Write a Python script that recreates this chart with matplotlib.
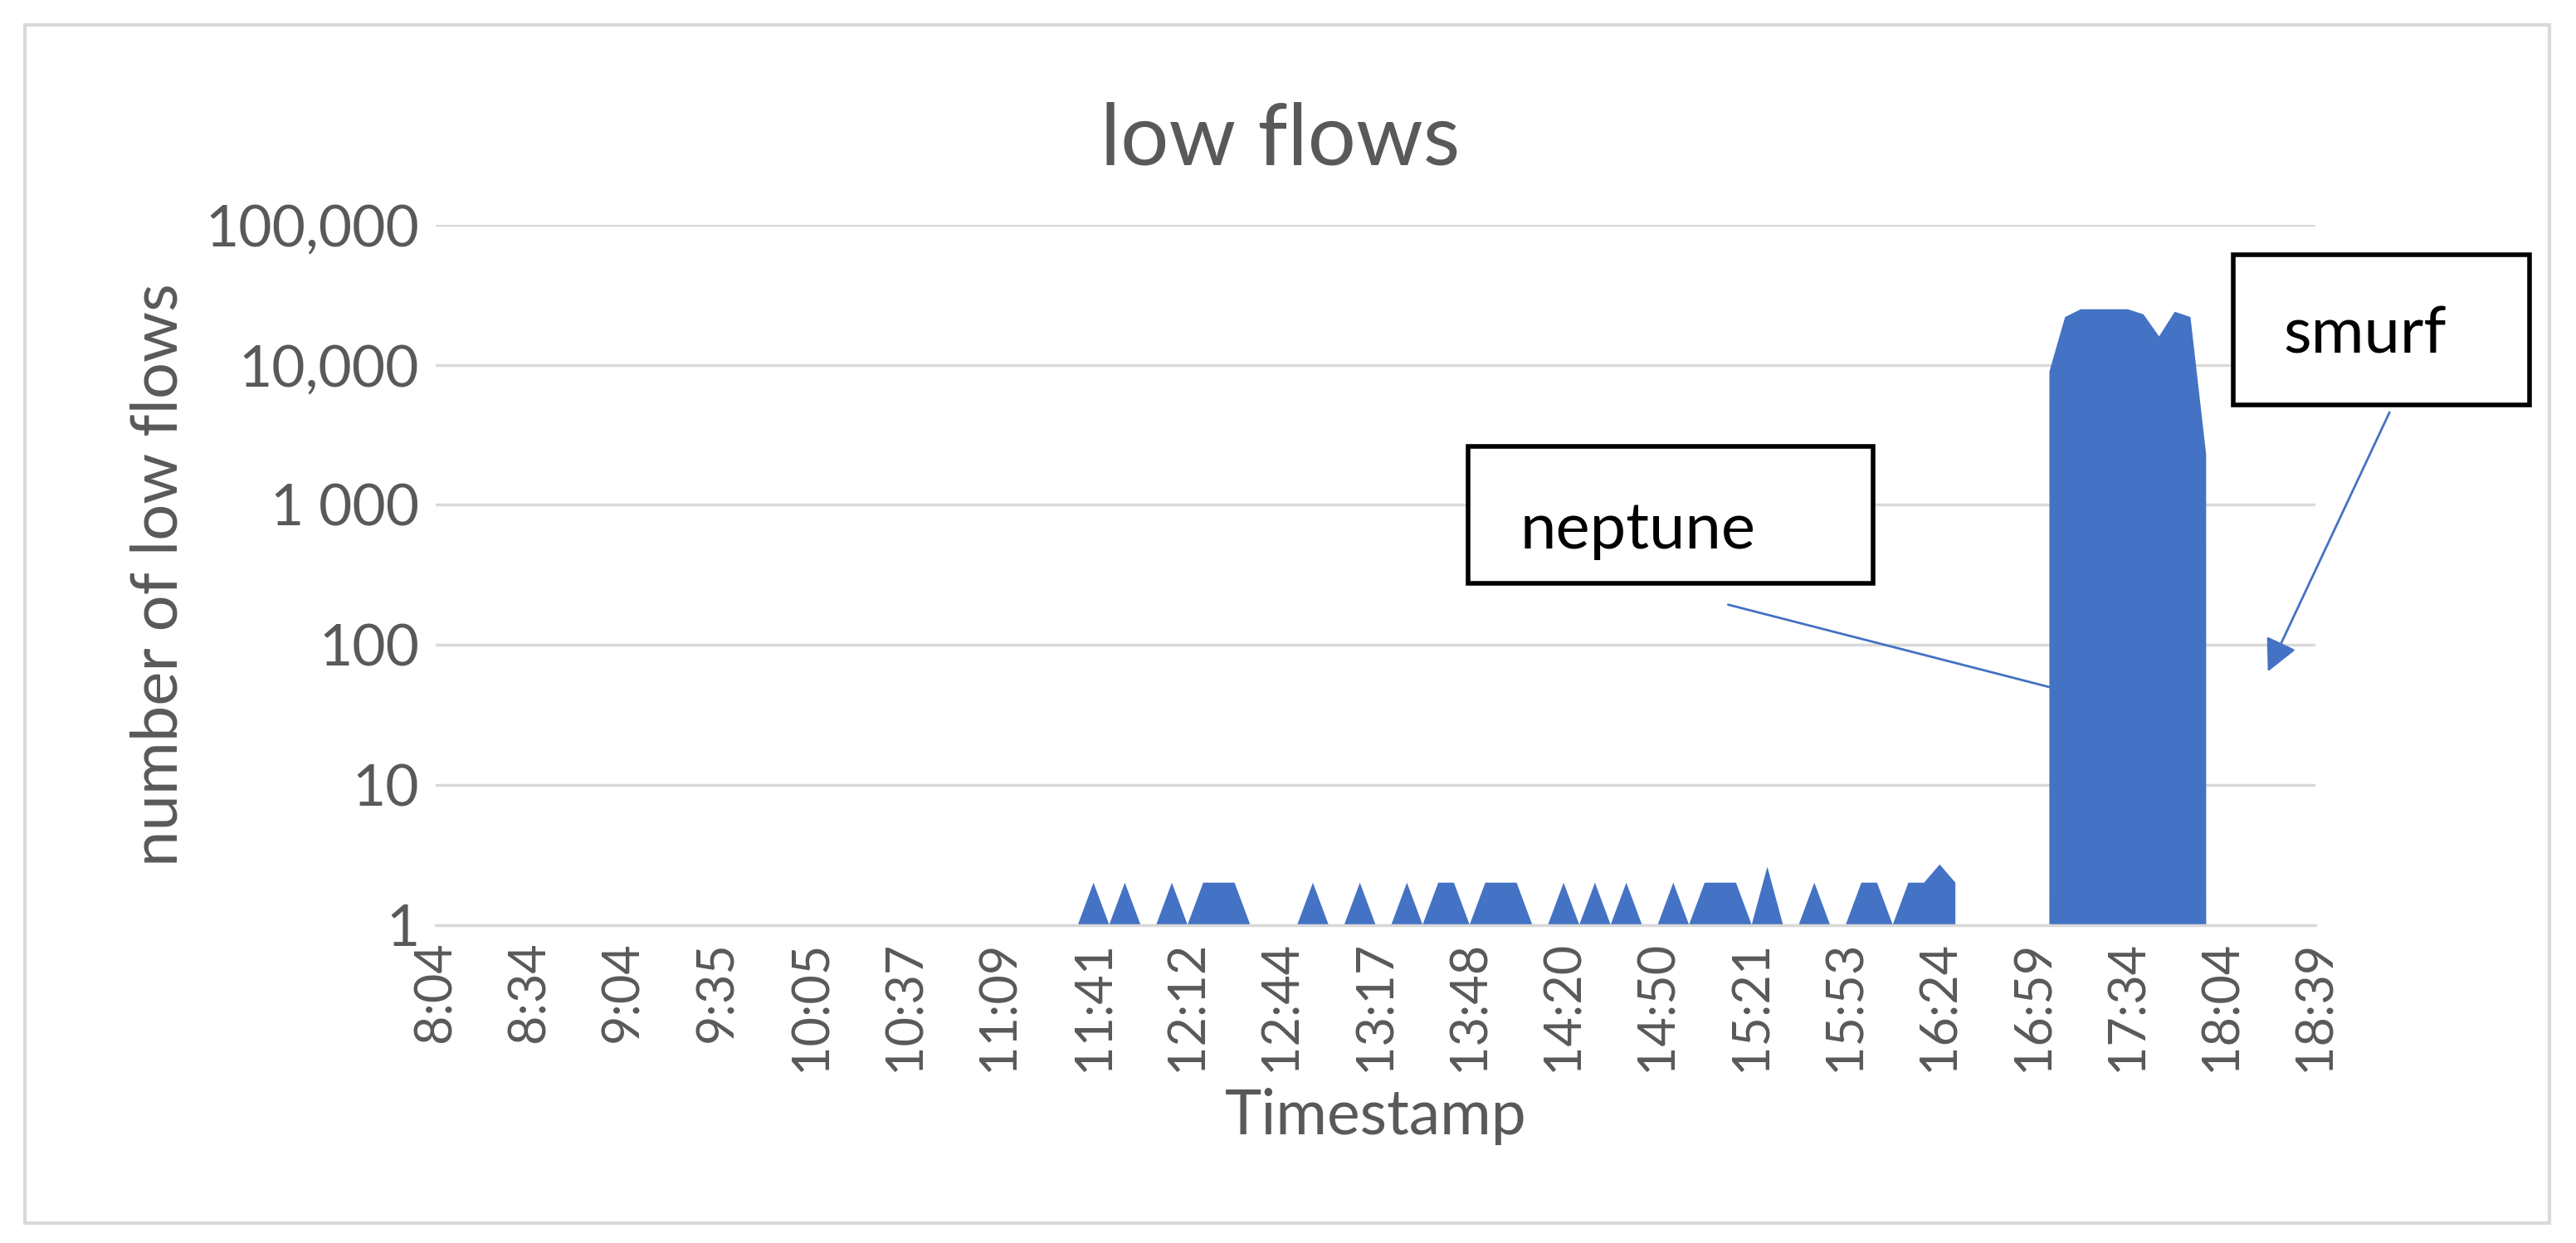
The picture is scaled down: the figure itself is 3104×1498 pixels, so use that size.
import matplotlib.pyplot as plt
from matplotlib.patches import Rectangle
from matplotlib.ticker import FixedLocator
import numpy as np

plt.rcParams['font.family'] = ['Lato', 'DejaVu Sans']

tick_labels = ["8:04", "8:34", "9:04", "9:35", "10:05", "10:37", "11:09", "11:41",
               "12:12", "12:44", "13:17", "13:48", "14:20", "14:50", "15:21",
               "15:53", "16:24", "16:59", "17:34", "18:04", "18:39"]
n_points = 118

# small spikes (index -> count); other points are 1 or 0 (0 drops straight to the axis)
small_idx = [42, 44, 47, 49, 50, 51, 56, 59, 62, 64, 65, 67, 68, 69, 72, 74, 76, 79,
             81, 82, 83, 85, 88, 91, 92, 94, 95, 96, 97]
small_val = [2, 2, 2, 2, 2, 2, 2, 2, 2, 2, 2, 2, 2, 2, 2, 2, 2, 2,
             2, 2, 2, 2.6, 2, 2, 2, 2, 2, 2.7, 2]
zero_idx = [98, 99, 100, 101, 102, 114, 115, 116, 117]
# attack block
big_idx = list(range(103, 114))
big_val = [9000, 22000, 25000, 25000, 25000, 25000, 23000, 16000, 24000, 22000, 2300]

counts = np.ones(n_points)
counts[small_idx] = small_val
counts[zero_idx] = 0
counts[big_idx] = big_val
x = np.arange(n_points)

fig = plt.figure(figsize=(31.04, 14.98), dpi=100)
ax = fig.add_axes([0.169, 0.256, 0.730, 0.563])
ax.set_yscale("log")
ax.fill_between(x, 1, counts, color="#4472c4", lw=0)
ax.set_ylim(1, 100000)
ax.set_xlim(0, n_points - 1)
ax.yaxis.set_major_locator(FixedLocator([1, 10, 100, 1000, 10000, 100000]))
ax.yaxis.set_minor_locator(FixedLocator([]))
ax.set_yticklabels(["1", "10", "100", "1 000", "10,000", "100,000"])
ax.set_xticks(np.arange(0, 121, 6))
ax.set_xticklabels(tick_labels, rotation=90)
ax.tick_params(length=0, labelcolor="#595959", pad=14)
ax.tick_params(axis="y", labelsize=50)
ax.tick_params(axis="x", labelsize=44)
ax.grid(axis="y", color="#d9d9d9", lw=2.5)
ax.set_axisbelow(True)
for s in ["top", "right", "left"]:
    ax.spines[s].set_visible(False)
ax.spines["bottom"].set_color("#d9d9d9")
ax.spines["bottom"].set_linewidth(2.5)
ax.set_xlabel("Timestamp", fontsize=54, color="#595959", labelpad=14)
ax.set_ylabel("number of low flows", fontsize=56, color="#595959", labelpad=14)
fig.text(0.497, 0.887, "low flows", fontsize=74, color="#595959", ha="center", va="center")

# annotation boxes
fig.patches.append(Rectangle((0.570, 0.531), 0.157, 0.110, transform=fig.transFigure,
                             fill=True, fc="white", ec="black", lw=4, zorder=5))
fig.text(0.590, 0.573, "neptune", fontsize=56, ha="left", va="center", zorder=6)
fig.patches.append(Rectangle((0.867, 0.674), 0.115, 0.121, transform=fig.transFigure,
                             fill=True, fc="white", ec="black", lw=4, zorder=5))
fig.text(0.918, 0.730, "smurf", fontsize=56, ha="center", va="center", zorder=6)

arrow = dict(arrowstyle="-|>", color="#4472c4", lw=2, mutation_scale=60)
ax.annotate("", xy=(0.813, 0.438), xytext=(0.670, 0.514), xycoords="figure fraction",
            textcoords="figure fraction", arrowprops=arrow)
ax.annotate("", xy=(0.880, 0.458), xytext=(0.928, 0.670), xycoords="figure fraction",
            textcoords="figure fraction", arrowprops=arrow)

fig.patches.append(Rectangle((0.0096, 0.016), 0.980, 0.964, transform=fig.transFigure,
                             fill=False, ec="#d9d9d9", lw=3))

fig.savefig("out.png", dpi=100)
